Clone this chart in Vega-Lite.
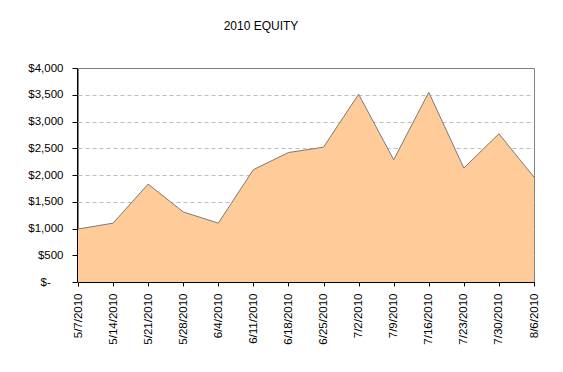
{
  "$schema": "https://vega.github.io/schema/vega-lite/v6.json",
  "autosize": "none",
  "width": 456,
  "height": 214,
  "padding": {"left": 78, "top": 68, "right": 29, "bottom": 90},
  "background": "white",
  "title": {
    "text": "2010 EQUITY",
    "font": "Liberation Sans",
    "fontSize": 12,
    "fontWeight": "normal",
    "color": "black",
    "anchor": "middle",
    "dx": -45,
    "baseline": "alphabetic",
    "offset": 20
  },
  "config": {
    "view": {"stroke": "#808080", "strokeWidth": 1},
    "axis": {
      "labelFont": "Liberation Sans",
      "labelFontSize": 11.5,
      "labelColor": "black",
      "domainColor": "black",
      "tickColor": "black",
      "title": null
    }
  },
  "data": {
    "values": [
      {"date": "5/7/2010", "equity": 990},
      {"date": "5/14/2010", "equity": 1100},
      {"date": "5/21/2010", "equity": 1830},
      {"date": "5/28/2010", "equity": 1310},
      {"date": "6/4/2010", "equity": 1100},
      {"date": "6/11/2010", "equity": 2100},
      {"date": "6/18/2010", "equity": 2420},
      {"date": "6/25/2010", "equity": 2520},
      {"date": "7/2/2010", "equity": 3510},
      {"date": "7/9/2010", "equity": 2285},
      {"date": "7/16/2010", "equity": 3545},
      {"date": "7/23/2010", "equity": 2130},
      {"date": "7/30/2010", "equity": 2770},
      {"date": "8/6/2010", "equity": 1960}
    ]
  },
  "mark": {
    "type": "area",
    "color": "#FFCC99",
    "fillOpacity": 1,
    "line": {"color": "#7a7a7a", "strokeWidth": 1}
  },
  "encoding": {
    "x": {
      "field": "date",
      "type": "nominal",
      "sort": null,
      "scale": {"type": "point", "padding": 0},
      "axis": {
        "labelAngle": -90,
        "tickSize": 4,
        "labelPadding": 7,
        "grid": false
      }
    },
    "y": {
      "field": "equity",
      "type": "quantitative",
      "scale": {"domain": [0, 4000], "nice": false, "zero": true},
      "axis": {
        "values": [0, 500, 1000, 1500, 2000, 2500, 3000, 3500, 4000],
        "offset": 1,
        "tickSize": 5,
        "labelPadding": 9,
        "grid": true,
        "gridColor": "#bdbdbd",
        "gridDash": [4, 3],
        "gridOpacity": {"condition": {"test": "datum.value == 4000 || datum.value == 0", "value": 0}, "value": 1},
        "labelExpr": "datum.value == 0 ? '$-\u00a0\u00a0\u00a0\u00a0\u200b' : '$' + format(datum.value, ',')"
      }
    }
  }
}
